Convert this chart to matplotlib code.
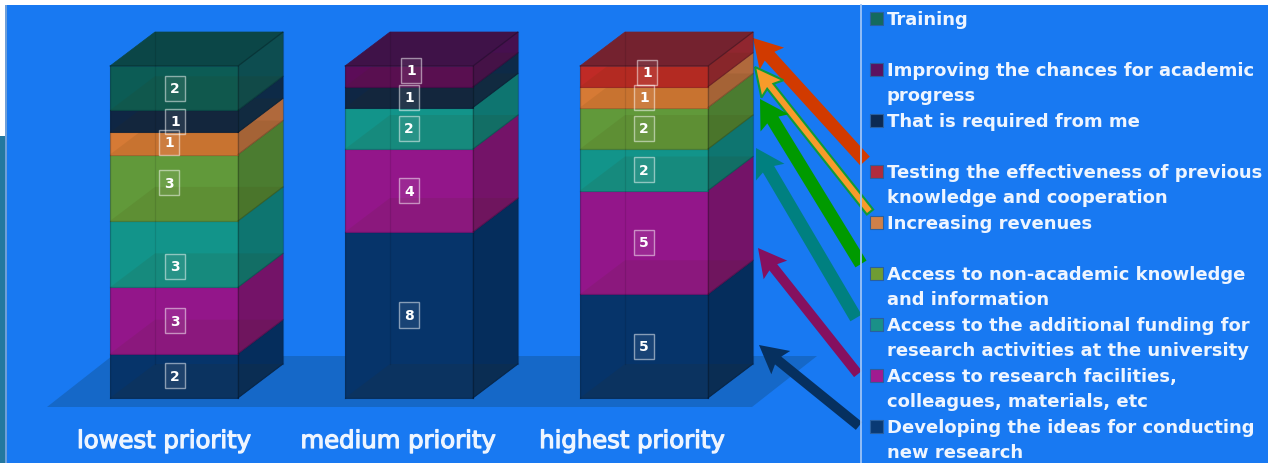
import matplotlib
matplotlib.use('Agg')
import matplotlib.pyplot as plt
import matplotlib.patheffects as pe
from matplotlib.patches import Polygon, Rectangle, FancyArrow
import numpy as np

# data
categories = ['lowest priority', 'medium priority', 'highest priority']
developing = [2, 8, 5]
facilities = [3, 4, 5]
funding = [3, 2, 2]
non_academic = [3, 0, 2]
revenues = [1, 0, 1]
testing = [0, 0, 1]
required = [1, 1, 0]
improving = [0, 1, 0]
training = [2, 0, 0]

series_names = ['Developing the ideas for conducting\nnew research',
                'Access to research facilities,\ncolleagues, materials, etc',
                'Access to the additional funding for\nresearch activities at the university',
                'Access to non-academic knowledge\nand information',
                'Increasing revenues',
                'Testing the effectiveness of previous\nknowledge and cooperation',
                'That is required from me',
                'Improving the chances for academic\nprogress',
                'Training']
series = [developing, facilities, funding, non_academic, revenues,
          testing, required, improving, training]

# styles
front_colors = ['#06346a', '#93168a', '#12948a', '#61993a', '#d67a35',
                '#bf2a26', '#0f2644', '#5c0c58', '#0c5c55']
side_colors = ['#052d5c', '#741368', '#0e7570', '#4b7c30', '#b0693c',
               '#90262f', '#0d2a47', '#46104f', '#0d4d50']
top_colors = {'Training': '#0b4647', 'Improving': '#3f1248', 'Testing': '#74222f'}
legend_colors = ['#0a3a74', '#a01b90', '#1a9088', '#6f9c34', '#d08048',
                 '#b02c3c', '#0c2a52', '#5c1260', '#146a5e']
bg_color = '#1879f2'
W, H = 1268, 464

# label nudges in pixels, per category and stacked segment (dx, dy)
nudges = [[(1, 0), (1, 0), (1, 12), (-5, -5), (-5, -1), None, (1, 0), None, (1, 0)],
          [(0, 0), (0, 0), (0, 0), None, None, None, (0, 0), (2, -6), None],
          [(0, 0), (0, 0), (0, 0), (0, 0), (0, 0), (3, -4), None, None, None]]

# arrows: tail x, tail y, head x, head y, colour, stem width
arrows = [(865, 162, 753, 39, '#d13a00', 13),
          (870, 213, 755, 68, '#f89b2a', 8),
          (861, 265, 760, 100, '#009a00', 13),
          (856, 319, 756, 149, '#008080', 13),
          (858, 375, 758, 249, '#85105f', 10),
          (859, 427, 759, 346, '#06305f', 10)]

plt.rcParams['font.family'] = ['DejaVu Sans']
fig = plt.figure(figsize=(W / 100, H / 100), dpi=100)

# pixel canvas for background, floor, arrows and legend
bg = fig.add_axes([0, 0, 1, 1], zorder=0)
bg.set_xlim(0, W)
bg.set_ylim(H, 0)
bg.axis('off')
bg.add_patch(Rectangle((5, 6), W - 5, H - 6, fc=bg_color, ec='none'))
bg.add_patch(Rectangle((0, 137), 5, H - 137, fc='#24789f', ec='none'))
bg.add_patch(Rectangle((5, 6), 1.5, H - 6, fc='#6f9fd8', ec='none'))
bg.add_patch(Polygon([(47, 408), (112, 357), (817, 357), (752, 408)], fc='#1568c8', ec='none'))
bg.plot([861, 861], [6, H], color='#9cc4f7', lw=1.3)

for x0, y0, x1, y1, c, w in arrows:
    ec = '#0f9a3a' if c == '#f89b2a' else c
    bg.add_patch(FancyArrow(x0, y0, x1 - x0, y1 - y0, width=w, head_width=w + 20, head_length=28,
                            overhang=0.12, length_includes_head=True, fc=c, ec=ec,
                            lw=1.5 if ec != c else 0))

# legend, top row is the last series
for i, name in enumerate(series_names[::-1]):
    y = 19 + 51 * i
    k = len(series) - 1 - i
    bg.add_patch(Rectangle((870, y - 6.5), 13, 13, fc=legend_colors[k], ec='#2a5f9e', lw=0.8))
    bg.text(887, y - 8, name, color='#eef5ff', fontsize=13, fontweight='bold', va='top',
            ha='left', linespacing=1.52, clip_on=True)

for i, cat in enumerate(categories):
    bg.text(164 + 234 * i, 442, cat, color='#eef5ff', fontsize=17.5, ha='center', va='center',
            path_effects=[pe.withStroke(linewidth=0.9, foreground='#eef5ff')])

# chart axes: one unit of x is the column spacing, y is the share of the column
col_step, col_height = 235.0, 332.0
ax = fig.add_axes([0, 0, 1, 1], zorder=1)
ax.patch.set_alpha(0)
ax.set_xlim(-174 / col_step, (W - 174) / col_step)
ax.set_ylim((399 - H) / col_height, 399 / col_height)
ax.axis('off')

bar_w = 128 / col_step
dx, dy = 45 / col_step, 34 / col_height
x = np.arange(len(categories))
values = np.array(series, dtype=float)
totals = values.sum(axis=0)
bottom = np.zeros(len(categories))

for k, vals in enumerate(values):
    share = vals / totals
    ax.bar(x[vals > 0], share[vals > 0], bottom=bottom[vals > 0], width=bar_w,
           color=front_colors[k], edgecolor=front_colors[k], lw=0.5, zorder=k * 2 + 2)
    for j in x[vals > 0]:
        l, r = j - bar_w / 2, j + bar_w / 2
        b, t = bottom[j], bottom[j] + share[j]
        ax.add_patch(Polygon([(r, b), (r + dx, b + dy), (r + dx, t + dy), (r, t)],
                             fc=side_colors[k], ec=side_colors[k], lw=0.5, zorder=k * 2 + 2))
        # floor of the segment, seen through the glass
        ax.add_patch(Polygon([(l, b), (r, b), (r + dx, b + dy), (l + dx, b + dy)],
                             fc='#403000', ec='none', alpha=0.09, zorder=k * 2 + 2.5))
        ax.plot([l, r], [b, b], color='k', alpha=0.18, lw=0.9, zorder=k * 2 + 2.6)
        ax.plot([r, r + dx], [b, b + dy], color='k', alpha=0.18, lw=0.9, zorder=k * 2 + 2.6)
    bottom = bottom + share

for j in x:
    l, r = j - bar_w / 2, j + bar_w / 2
    top_k = max(k for k in range(len(series)) if values[k, j] > 0)
    top_c = top_colors[series_names[top_k].split()[0]]
    ax.add_patch(Polygon([(l, 1), (r, 1), (r + dx, 1 + dy), (l + dx, 1 + dy)],
                         fc=top_c, ec=top_c, lw=0.5, zorder=30))
    # back edges and outer edges of the box
    ax.plot([l + dx, l + dx], [dy, 1 + dy], color='k', alpha=0.10, lw=0.9, zorder=31)
    ax.plot([l, l], [0, 1], color='k', alpha=0.22, lw=0.9, zorder=31)
    ax.plot([r, r], [0, 1], color='k', alpha=0.25, lw=0.9, zorder=31)
    ax.plot([r + dx, r + dx], [dy, 1 + dy], color='k', alpha=0.2, lw=0.9, zorder=31)
    ax.plot([l, r, r + dx], [1, 1, 1 + dy], color='k', alpha=0.25, lw=0.9, zorder=31)

# value labels
bottom = np.zeros(len(categories))
for k, vals in enumerate(values):
    share = vals / totals
    for j in x[vals > 0]:
        ndx, ndy = nudges[j][k]
        ax.text(j + ndx / col_step, bottom[j] + share[j] / 2 - ndy / col_height, '%d' % vals[j],
                color='white', fontsize=10, fontweight='bold', ha='center', va='center', zorder=40,
                bbox=dict(boxstyle='square,pad=0.4', fc=(1, 1, 1, 0.08), ec=(1, 1, 1, 0.5), lw=1))
    bottom = bottom + share

fig.savefig('out.png', dpi=100)
